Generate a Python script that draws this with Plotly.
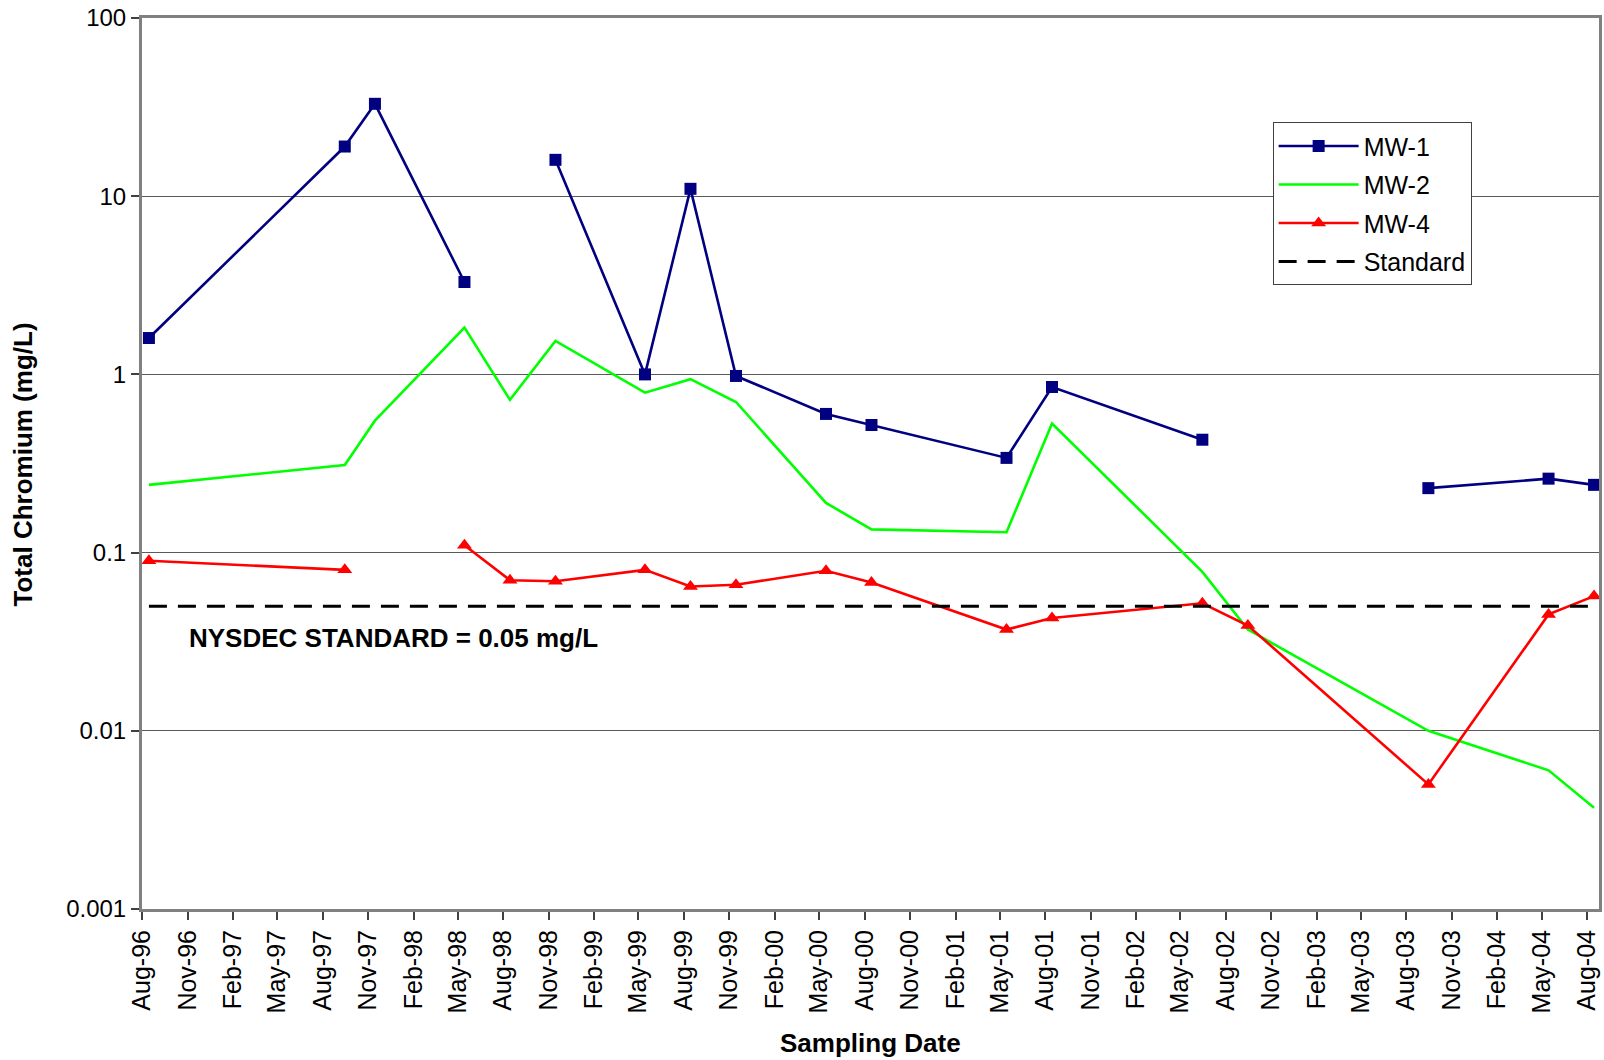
import plotly.graph_objects as go

# ---- data ----
dates = ["1996-08-15", "1997-09-15", "1997-11-15", "1998-05-15", "1998-08-15",
         "1998-11-15", "1999-05-15", "1999-08-15", "1999-11-15", "2000-05-15",
         "2000-08-15", "2001-05-15", "2001-08-15", "2002-06-15", "2002-09-15",
         "2003-09-15", "2004-05-15", "2004-08-15"]

mw1 = [1.6, 19, 33, 3.3, None, 16, 1.0, 11, 0.98, 0.6, 0.52, 0.34, 0.85, 0.43,
       None, 0.23, 0.26, 0.24]
mw2 = [0.24, 0.31, 0.55, 1.83, 0.72, 1.54, 0.79, 0.94, 0.70, 0.19, 0.135, 0.13,
       0.53, 0.078, 0.037, 0.010, 0.006, 0.0037]
mw4 = [0.09, 0.08, None, 0.11, 0.07, 0.069, 0.08, 0.0645, 0.066, 0.079, 0.068,
       0.037, 0.043, 0.052, 0.039, 0.005, 0.045, 0.057]
standard = [0.05] * len(dates)

y_tickvals = [0.001, 0.01, 0.1, 1, 10, 100]
y_ticktext = ["0.001", "0.01", "0.1", "1", "10", "100"]

FONT = "Arial, Liberation Sans, sans-serif"

fig = go.Figure()
fig.add_trace(go.Scatter(x=dates, y=mw1, name="MW-1", mode="lines+markers",
                         line=dict(color="#000080", width=2.6),
                         marker=dict(symbol="square", size=12, color="#000080"),
                         legendgroup="a"))
fig.add_trace(go.Scatter(x=dates, y=mw2, name="MW-2", mode="lines",
                         line=dict(color="#00FF00", width=2.6),
                         legendgroup="b"))
fig.add_trace(go.Scatter(x=dates, y=mw4, name="MW-4", mode="lines+markers",
                         line=dict(color="#FF0000", width=2.6),
                         marker=dict(symbol="triangle-up", size=13, color="#FF0000"),
                         legendgroup="c"))
fig.add_trace(go.Scatter(x=dates, y=standard, name="Standard", mode="lines",
                         line=dict(color="#000000", width=3, dash="18px,11px"),
                         legendgroup="d"))

fig.add_annotation(text="<b>NYSDEC STANDARD = 0.05 mg/L</b>",
                   xref="paper", yref="paper", x=0.031, y=0.304,
                   xanchor="left", yanchor="middle", showarrow=False,
                   font=dict(family=FONT, size=26, color="#000000"))
fig.add_annotation(text="<b>Total Chromium (mg/L)</b>", textangle=-90,
                   xref="paper", yref="paper", x=-0.0819, y=0.4985,
                   xanchor="center", yanchor="middle", showarrow=False,
                   font=dict(family=FONT, size=26, color="#000000"))
fig.add_annotation(text="<b>Sampling Date</b>",
                   xref="paper", yref="paper", x=0.5, y=-0.1505,
                   xanchor="center", yanchor="middle", showarrow=False,
                   font=dict(family=FONT, size=26, color="#000000"))

fig.update_layout(
    width=1604, height=1060,
    margin=dict(l=142, r=2, t=18, b=151),
    paper_bgcolor="white", plot_bgcolor="white",
    font=dict(family=FONT, size=24, color="#000000"),
    showlegend=True,
    legend=dict(x=0.776, y=0.883, xanchor="left", yanchor="top",
                bgcolor="white", bordercolor="#404040", borderwidth=1,
                font=dict(family=FONT, size=25, color="#000000"),
                traceorder="grouped", tracegroupgap=3, itemwidth=80),
)
fig.update_xaxes(
    type="date", range=["1996-08-01", "2004-08-25"],
    tick0="1996-08-01", dtick="M3", tickformat="%b-%y", tickangle=-90,
    ticks="outside", ticklen=8, tickwidth=1.5, tickcolor="#404040",
    tickfont=dict(family=FONT, size=25, color="#000000"),
    showgrid=False, zeroline=False,
    showline=True, linecolor="#808080", linewidth=3, mirror=True,
)
fig.update_yaxes(
    type="log", range=[-3, 2],
    tickvals=y_tickvals, ticktext=y_ticktext,
    ticks="outside", ticklen=8, tickwidth=1.5, tickcolor="#404040",
    tickfont=dict(family=FONT, size=24, color="#000000"),
    showgrid=True, gridcolor="#5a5a5a", gridwidth=1.2, zeroline=False,
    showline=True, linecolor="#808080", linewidth=3, mirror=True,
)

fig.write_html("out.html", config={"displayModeBar": False},
               post_script="document.body.style.margin='0';")
